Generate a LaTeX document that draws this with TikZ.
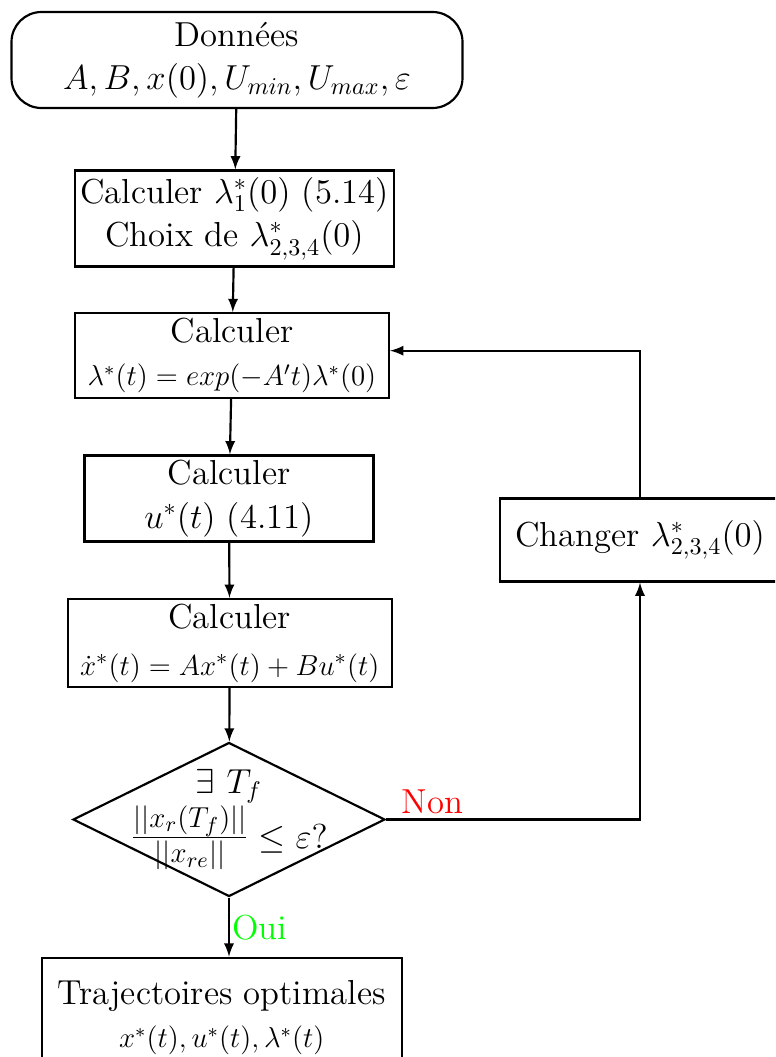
\documentclass[tikz,border=0pt]{standalone}
\usetikzlibrary{positioning,shapes,arrows}
\newcommand{\px}{0.415pt}
\newcommand{\petit}{\fontsize{12}{14.5}\selectfont}
\tikzset{
    Bloc/.style={draw, line width=0.9pt, rectangle, align=center, inner sep=2pt, font=\Large},
    BlocDonnees/.style={Bloc, rounded corners=30*\px},
    Decision/.style={draw, line width=0.9pt, diamond, align=center, inner sep=-25pt, font=\Large},
    Fleche/.style={line width=0.9pt, -latex},
    Reponse/.style={font=\Large, inner sep=2pt}
    }

\begin{document}
\begin{tikzpicture}[x=\px, y=-\px]
\clip (0,0) rectangle (775,1057);

\node[BlocDonnees, minimum width=451*\px, minimum height=96*\px] (Donnees) at (237,60) {Donn\'ees\\$A,B,x(0),U_{min},U_{max},\varepsilon$};
\node[Bloc, minimum width=315*\px, minimum height=96*\px] (Init) at (234.5,218.5) {Calculer $\lambda_1^*(0)$ (5.14)\\Choix de $\lambda_{2,3,4}^*(0)$};
\node[Bloc, minimum width=314*\px, minimum height=83*\px] (Lambda) at (232,355.5) {Calculer\\{\petit $\lambda^*(t)=exp(-A't)\lambda^*(0)$}};
\node[Bloc, minimum width=289*\px, minimum height=82*\px] (Commande) at (229,498.5) {Calculer\\$u^*(t)$ (4.11)};
\node[Bloc, minimum width=324*\px, minimum height=83*\px] (Etat) at (229.7,643) {Calculer\\[1.5pt]{\fontsize{12.5}{14.5}\selectfont $\dot{x}^*(t)=Ax^*(t)+Bu^*(t)$}};
\node[Decision, minimum width=312*\px, minimum height=154*\px] (Test) at (229,819.5) {$\exists\ T_f$\\{\fontsize{18}{20}\selectfont$\frac{||x_r(T_f)||}{||x_{re}||}$}${}\leq\varepsilon ?$};
\node[Bloc, minimum width=360*\px, minimum height=120*\px, anchor=north] (Fin) at (221.7,956.7) {Trajectoires optimales\\{\petit $x^*(t),u^*(t),\lambda^*(t)$}};
\node[Bloc, minimum width=280*\px, minimum height=83*\px] (Change) at (640,540) {Changer $\lambda_{2,3,4}^*(0)$};

\draw[Fleche] (Donnees) -- (Init);
\draw[Fleche] (Init) -- (Lambda);
\draw[Fleche] (Lambda) -- (Commande);
\draw[Fleche] (Commande) -- (Etat);
\draw[Fleche] (Etat) -- (Test);
\draw[Fleche] (Test.south) -- node[Reponse, right, inner sep=1pt, text=green] {Oui} (Test.south |- Fin.north);
\draw[Fleche] (Test.east) -| node[Reponse, pos=0, anchor=south west, xshift=4pt, text=red] {Non} (Change.south);
\draw[Fleche] (Change.north) |- ([yshift=2pt]Lambda.east);

\end{tikzpicture}
\end{document}
